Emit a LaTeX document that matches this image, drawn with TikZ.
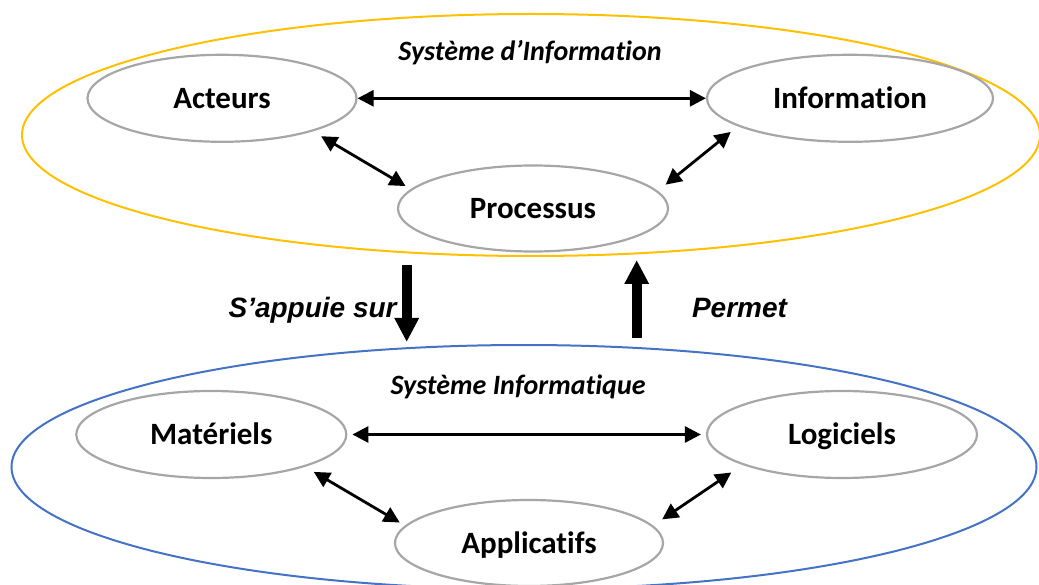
\documentclass[tikz,border=0pt]{standalone}
\usepackage{fontspec}
\setmainfont[Ligatures={NoCommon}]{Carlito}
\newfontfamily\arialfont{Liberation Sans}
\usetikzlibrary{shapes.geometric,arrows.meta}
\definecolor{sysgold}{HTML}{FFC000}
\definecolor{sysblue}{HTML}{4472C4}
\definecolor{ovalgray}{HTML}{A6A6A6}
\begin{document}
\begin{tikzpicture}[x=1pt,y=-1pt,
  system/.style={ellipse, line width=2pt, inner sep=0pt},
  oval/.style={ellipse, draw=ovalgray, line width=2.2pt, inner sep=0pt,
    minimum width=270pt, minimum height=87pt,
    font=\fontsize{31}{31}\selectfont\bfseries, text height=20pt, text depth=0pt},
  link/.style={line width=2.8pt,
    {Triangle[length=16pt,width=16pt]}-{Triangle[length=16pt,width=16pt]}},
  bigarrow/.style={line width=10pt, -{Triangle[length=24pt,width=23pt]}},
  caption/.style={font=\fontsize{28}{28}\selectfont\bfseries\itshape},
  verb/.style={font=\arialfont\fontsize{28}{28}\selectfont\bfseries\itshape}
]
\clip (0,0) rectangle (1039,585);
\useasboundingbox (0,0) rectangle (1039,585);

% the two systems
\node[system, draw=sysgold, minimum width=1018pt, minimum height=242pt] (si) at (531,135) {};
\node[system, draw=sysblue, minimum width=1025pt, minimum height=244pt] (sinfo) at (524,467) {};

% information system
\node[caption, anchor=base] (tsi) at (530,61) {Système d’Information};
\node[oval, minimum width=269pt] (act) at (222,98.3) {Acteurs};
\node[oval, minimum width=286pt] (inf) at (850,98.3) {Information};
\node[oval, minimum height=86pt] (pro) at (533,208.5) {Processus};

\draw[link] (act.east) -- (inf.west);
\draw[link, shorten <=9.5pt, shorten >=6pt] (act.-20) -- (pro.171.7);
\draw[link, shorten <=9pt, shorten >=10pt] (inf.-166.5) -- (pro.8.5);

% computer system
\node[caption, anchor=base] (tsinfo) at (518,394) {Système Informatique};
\node[oval] (mat) at (211.3,434.5) {Matériels};
\node[oval] (log) at (842,434.5) {Logiciels};
\node[oval, minimum width=268pt, minimum height=86pt] (app) at (529,543) {Applicatifs};

\draw[link, shorten <=5pt, shorten >=5pt] (mat.east) -- (log.west);
\draw[link, shorten <=10pt, shorten >=6pt] (mat.-19) -- (app.172.2);
\draw[link, shorten <=13.5pt, shorten >=11pt] (log.-163.7) -- (app.8.3);

% relations between the systems
\coordinate (d0) at (406.7,265);
\coordinate (d1) at (406.7,342);
\coordinate (u0) at (636.7,338);
\coordinate (u1) at (636.7,260);
\draw[bigarrow] (d0) -- (d1);
\draw[bigarrow] (u0) -- (u1);
\node[verb, anchor=base] (lsur) at (312.6,317.5) {S’appuie sur};
\node[verb, anchor=base] (lperm) at (739.5,317.5) {Permet};
\end{tikzpicture}
\end{document}
